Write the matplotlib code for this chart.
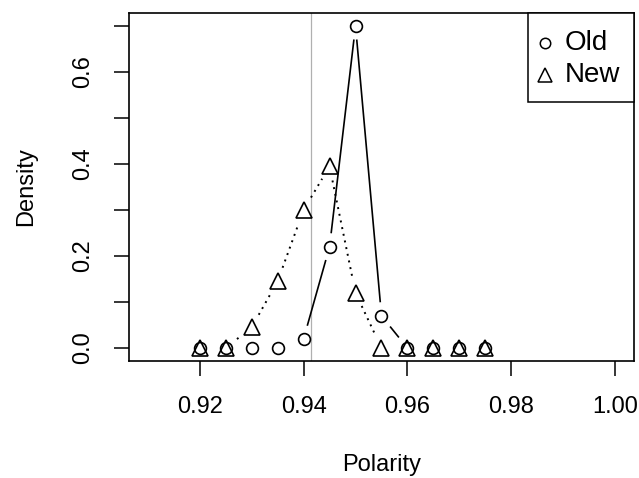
import matplotlib
matplotlib.use("Agg")
import matplotlib.pyplot as plt
import numpy as np
from matplotlib.patches import Rectangle

plt.rcParams["font.family"] = ["Liberation Sans", "DejaVu Sans"]

# density of polarity values, old vs new
polarity = [0.920, 0.925, 0.930, 0.935, 0.940, 0.945, 0.950, 0.955, 0.960, 0.965, 0.970, 0.975]
old_density = [0.0, 0.0, 0.0, 0.0, 0.02, 0.22, 0.70, 0.07, 0.0, 0.0, 0.0, 0.0]
new_density = [0.0, 0.0, 0.045, 0.145, 0.30, 0.395, 0.12, 0.0, 0.0, 0.0, 0.0, 0.0]
ref_line = 0.9415
x_ticks = [0.92, 0.94, 0.96, 0.98, 1.00]
y_ticks = [0.0, 0.1, 0.2, 0.3, 0.4, 0.5, 0.6, 0.7]
y_labels = ["0.0", "", "0.2", "", "0.4", "", "0.6", ""]
legend_names = ["Old", "New"]
legend_marks = ["o", "^"]

FS = 17
W, H = 639, 478
fig = plt.figure(figsize=(W / 100, H / 100), dpi=100)
ax = fig.add_axes([129 / W, 1 - 361 / H, (634 - 129) / W, (361 - 13) / H])
ax.set_xlim(0.9064, 1.0036)
ax.set_ylim(-0.028, 0.728)


def gapped(ax, xs, ys, gap_px, **kw):
    """Draw R type='b' style lines: segments shortened by gap_px at each end."""
    pts = ax.transData.transform(np.column_stack([xs, ys]))
    inv = ax.transData.inverted()
    for p0, p1 in zip(pts[:-1], pts[1:]):
        d = p1 - p0
        L = np.hypot(*d)
        if L <= 2 * gap_px:
            continue
        u = d / L
        a = inv.transform(p0 + u * gap_px)
        b = inv.transform(p1 - u * gap_px)
        ax.plot([a[0], b[0]], [a[1], b[1]], color="black", **kw)


ax.axvline(ref_line, color="#b0b0b0", lw=0.9, zorder=1)
gapped(ax, polarity, old_density, 14.5, lw=1.2, linestyle="-")
gapped(ax, polarity, new_density, 14.5, lw=1.4, linestyle=(0, (1, 2.5)))
ax.plot(polarity, old_density, linestyle="none", marker="o", ms=8.5,
        mfc="none", mec="black", mew=1.2)
ax.plot(polarity, new_density, linestyle="none", marker="^", ms=11,
        mfc="none", mec="black", mew=1.2)

ax.set_xticks(x_ticks)
ax.set_xticklabels([f"{v:.2f}" for v in x_ticks])
ax.set_yticks(y_ticks)
ax.set_yticklabels(y_labels, rotation=90, va="center")
ax.tick_params(axis="both", direction="out", length=11, width=1.1, labelsize=FS, pad=14)
for s in ax.spines.values():
    s.set_linewidth(1.2)

ax.set_xlabel("Polarity", fontsize=FS, labelpad=26)
ax.set_ylabel("Density", fontsize=FS, labelpad=25)

# R-style legend box in the top right corner
ax.add_patch(Rectangle((0.790, 0.744), 0.210, 0.256, transform=ax.transAxes,
                       fill=True, facecolor="white", edgecolor="black", lw=1.1,
                       clip_on=False, zorder=5))
for i, (name, mk) in enumerate(zip(legend_names, legend_marks)):
    yy = 0.914 - i * 0.092
    ax.plot([0.824], [yy], transform=ax.transAxes, linestyle="none", marker=mk,
            ms=7.5 if mk == "o" else 10, mfc="none", mec="black", mew=1.1,
            zorder=6, clip_on=False)
    ax.text(0.862, yy, name, transform=ax.transAxes, fontsize=20, va="center",
            ha="left", zorder=6)

fig.savefig("out.png", dpi=100)
